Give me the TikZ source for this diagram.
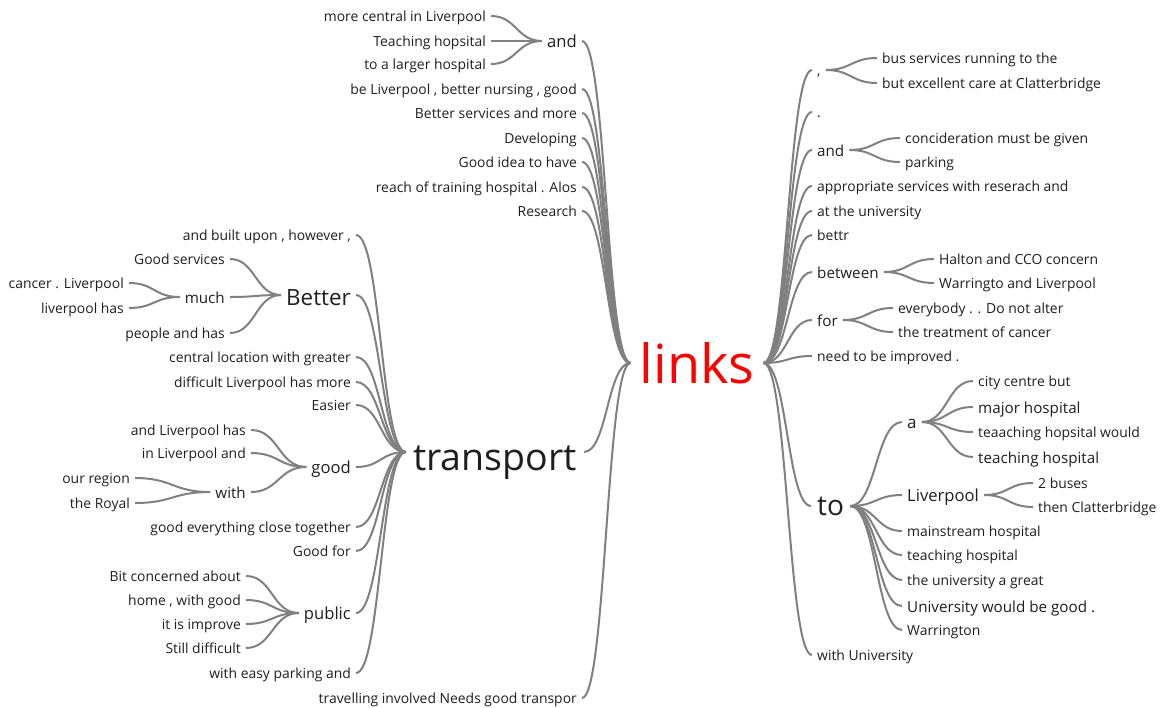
\documentclass[tikz,border=0pt]{standalone}
\usepackage{fontspec}
\setmainfont{Open Sans}
\usetikzlibrary{calc}
\definecolor{branch}{RGB}{128,128,128}
\definecolor{word}{RGB}{30,30,30}
\newcommand\wtlink[2]{\draw[br] let \p1=(#1), \p2=(#2) in (\p1) .. controls ({(\x1+\x2)/2},\y1) and ({(\x1+\x2)/2},\y2) .. (\p2);}
\begin{document}
\begin{tikzpicture}[x=1pt,y=-1pt,
  br/.style={draw=branch,line width=2pt},
  w/.style={text=word,inner ysep=0pt,inner xsep=5pt,text depth=0pt,text height=11.5pt,font=\fontsize{13.9}{16}\selectfont},
  wm/.style={w,text height=12.2pt,font=\fontsize{15.2}{18}\selectfont},
  wb/.style={w,text height=13pt,font=\fontsize{16.6}{20}\selectfont},
  lt/.style={anchor=east}, rg/.style={anchor=west}]
\useasboundingbox (0,0) rectangle (1162,707);
% root
\node[w,anchor=center,inner xsep=9pt,text=red,text height=40pt,font=\fontsize{54}{60}\selectfont] (links) at (697,363) {links};
% left of links
\node[wb,lt] (and1) at (582,41) {and};
\node[w,lt] (mc) at (491,16) {more central in Liverpool};
\node[w,lt] (th) at (491,41) {Teaching hopsital};
\node[w,lt] (tl) at (491,64) {to a larger hospital};
\node[w,lt] (bl) at (582,89) {be Liverpool , better nursing , good};
\node[w,lt] (bs) at (582,113) {Better services and more};
\node[w,lt] (dv) at (582,138) {Developing};
\node[w,lt] (gi) at (582,162) {Good idea to have};
\node[w,lt] (rth) at (582,187) {reach of training hospital . Alos};
\node[w,lt] (rs) at (582,211) {Research};
\node[w,lt,inner xsep=7pt,text height=36pt,font=\fontsize{37.5}{42}\selectfont] (tr) at (584,452) {transport};
\node[w,lt] (tv) at (582,698) {travelling involved Needs good transpor};
% under transport
\node[w,lt] (ab) at (356,235) {and built upon , however ,};
\node[w,lt,text height=20pt,font=\fontsize{22.4}{26}\selectfont] (bt) at (356,295) {Better};
\node[w,lt] (gs) at (230,259) {Good services};
\node[wm,lt] (mu) at (230,297) {much};
\node[w,lt] (cl) at (129,283) {cancer . Liverpool};
\node[w,lt] (lh) at (129,308) {liverpool has};
\node[w,lt] (ph) at (230,333) {people and has};
\node[w,lt] (cg) at (356,357) {central location with greater};
\node[w,lt] (dl) at (356,382) {difficult Liverpool has more};
\node[w,lt] (ea) at (356,405) {Easier};
\node[wb,lt] (gd) at (356,467) {good};
\node[w,lt] (al) at (251,430) {and Liverpool has};
\node[w,lt] (il) at (251,453) {in Liverpool and};
\node[wm,lt] (wi) at (251,492) {with};
\node[w,lt] (orr) at (135,478) {our region};
\node[w,lt] (ro) at (135,503) {the Royal};
\node[w,lt] (ge) at (356,527) {good everything close together};
\node[w,lt] (gf) at (356,551) {Good for};
\node[wb,lt] (pb) at (356,613) {public};
\node[w,lt] (bc) at (246,576) {Bit concerned about};
\node[w,lt] (hw) at (246,600) {home , with good};
\node[w,lt] (ii) at (246,624) {it is improve};
\node[w,lt] (sd) at (246,648) {Still difficult};
\node[w,lt] (we) at (356,673) {with easy parking and};
% right of links
\node[w,rg] (cm) at (812,70) {,};
\node[w,rg] (bsr) at (877,58) {bus services running to the};
\node[w,rg] (be) at (877,83) {but excellent care at Clatterbridge};
\node[w,rg] (dt) at (812,112) {.};
\node[wm,rg] (an) at (812,150) {and};
\node[w,rg] (cn) at (900,138) {concideration must be given};
\node[w,rg] (pk) at (900,162) {parking};
\node[w,rg] (ap) at (812,186) {appropriate services with reserach and};
\node[w,rg] (au) at (812,211) {at the university};
\node[w,rg] (bu) at (812,235) {bettr};
\node[wm,rg] (bw) at (812,272) {between};
\node[w,rg] (hc) at (934,259) {Halton and CCO concern};
\node[w,rg] (wl) at (934,283) {Warringto and Liverpool};
\node[wm,rg] (fo) at (812,320) {for};
\node[w,rg] (ev) at (893,308) {everybody . . Do not alter};
\node[w,rg] (tc) at (893,332) {the treatment of cancer};
\node[w,rg] (nb) at (812,356) {need to be improved .};
\node[w,rg,inner xsep=6pt,text height=18pt,font=\fontsize{28}{32}\selectfont] (to) at (811,506) {to};
\node[w,rg,text height=12pt,font=\fontsize{17}{20}\selectfont] (a) at (902,422) {a};
\node[w,rg] (cc) at (973,381) {city centre but};
\node[wm,rg] (mh) at (973,407) {major hospital};
\node[w,rg] (tw) at (973,432) {teaaching hopsital would};
\node[wm,rg] (th2) at (973,457) {teaching hospital};
\node[wb,rg] (lv) at (902,495) {Liverpool};
\node[w,rg] (b2) at (1033,483) {2 buses};
\node[w,rg] (tcl) at (1033,507) {then Clatterbridge};
\node[w,rg] (mn) at (902,531) {mainstream hospital};
\node[w,rg] (th3) at (902,555) {teaching hospital};
\node[w,rg] (ua) at (902,580) {the university a great};
\node[wm,rg] (uw) at (902,606) {University would be good .};
\node[w,rg] (wa) at (902,630) {Warrington};
\node[w,rg] (wu) at (812,655) {with University};
% branches
\foreach \c in {and1,bl,bs,dv,gi,rth,rs,tr,tv} {\wtlink{\c.east}{links.west}}
\foreach \c in {mc,th,tl} {\wtlink{\c.east}{and1.west}}
\foreach \c in {ab,bt,cg,dl,ea,gd,ge,gf,pb,we} {\wtlink{\c.east}{tr.west}}
\foreach \c in {gs,mu,ph} {\wtlink{\c.east}{bt.west}}
\foreach \c in {cl,lh} {\wtlink{\c.east}{mu.west}}
\foreach \c in {al,il,wi} {\wtlink{\c.east}{gd.west}}
\foreach \c in {orr,ro} {\wtlink{\c.east}{wi.west}}
\foreach \c in {bc,hw,ii,sd} {\wtlink{\c.east}{pb.west}}
\foreach \c in {cm,dt,an,ap,au,bu,bw,fo,nb,to,wu} {\wtlink{links.east}{\c.west}}
\foreach \c in {bsr,be} {\wtlink{cm.east}{\c.west}}
\foreach \c in {cn,pk} {\wtlink{an.east}{\c.west}}
\foreach \c in {hc,wl} {\wtlink{bw.east}{\c.west}}
\foreach \c in {ev,tc} {\wtlink{fo.east}{\c.west}}
\foreach \c in {a,lv,mn,th3,ua,uw,wa} {\wtlink{to.east}{\c.west}}
\foreach \c in {cc,mh,tw,th2} {\wtlink{a.east}{\c.west}}
\foreach \c in {b2,tcl} {\wtlink{lv.east}{\c.west}}
\end{tikzpicture}
\end{document}
